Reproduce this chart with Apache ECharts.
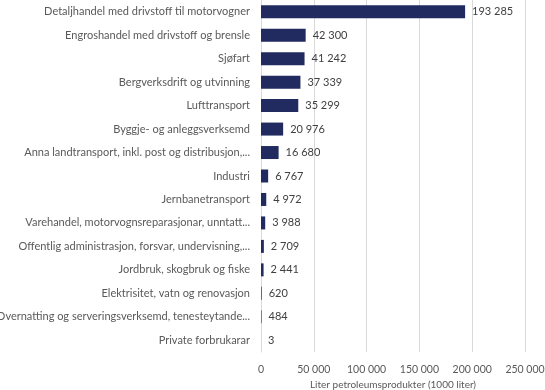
<!DOCTYPE html>
<html>
<head>
<meta charset="utf-8">
<script src="https://cdn.jsdelivr.net/npm/echarts@6/dist/echarts.min.js"></script>
<style>html,body{margin:0;padding:0;background:#fff}#c{width:545px;height:390px}</style>
</head>
<body>
<div id="c"></div>
<script>
const categories = [
  "Detaljhandel med drivstoff til motorvogner",
  "Engroshandel med drivstoff og brensle",
  "Sjøfart",
  "Bergverksdrift og utvinning",
  "Lufttransport",
  "Byggje- og anleggsverksemd",
  "Anna landtransport, inkl. post og distribusjon,...",
  "Industri",
  "Jernbanetransport",
  "Varehandel, motorvognsreparasjonar, unntatt...",
  "Offentlig administrasjon, forsvar, undervisning,...",
  "Jordbruk, skogbruk og fiske",
  "Elektrisitet, vatn og renovasjon",
  "Overnatting og serveringsverksemd, tenesteytande...",
  "Private forbrukarar"
];
const values = [193285, 42300, 41242, 37339, 35299, 20976, 16680, 6767, 4972, 3988, 2709, 2441, 620, 484, 3];
const xTicks = [0, 50000, 100000, 150000, 200000, 250000];
const axisTitle = "Liter petroleumsprodukter (1000 liter)";

function fmt(v){ return String(v).replace(/\B(?=(\d{3})+(?!\d))/g, ' '); }

const chart = echarts.init(document.getElementById('c'), null, {renderer:'canvas'});
const font = "Lato";
chart.setOption({
  animation: false,
  textStyle: {fontFamily: font},
  grid: {left: 261, right: 20, top: 0, bottom: 38, containLabel: false, outerBoundsMode: 'none'},
  xAxis: {
    type: 'value', min: xTicks[0], max: xTicks[xTicks.length-1], interval: 50000,
    axisLine: {show: false}, axisTick: {show: false},
    splitLine: {lineStyle: {color: '#d9d9d9', width: 1}},
    axisLabel: {formatter: fmt, color: '#595959', fontSize: 10.5, margin: 12, fontFamily: font},
    name: axisTitle, nameLocation: 'middle', nameGap: 27,
    nameTextStyle: {color: '#595959', fontSize: 10, fontFamily: font}
  },
  yAxis: {
    type: 'category', data: categories, inverse: true,
    axisLine: {show: true, lineStyle: {color: '#d9d9d9'}}, axisTick: {show: false},
    axisLabel: {color: '#595959', fontSize: 11, margin: 11, fontFamily: font}
  },
  series: [{
    type: 'bar', data: values, barWidth: 13,
    itemStyle: {color: '#222b60'},
    label: {show: true, position: 'right', distance: 7, formatter: p => fmt(p.value), color: '#404040', fontSize: 11, fontFamily: font}
  }]
});
</script>
</body>
</html>
